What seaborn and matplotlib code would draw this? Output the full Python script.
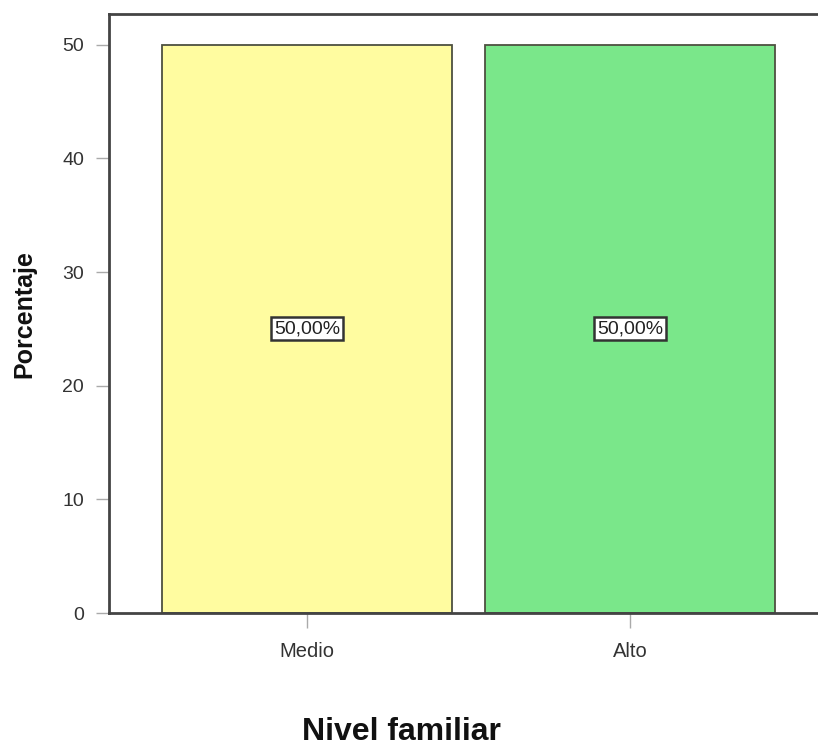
import matplotlib
matplotlib.use("Agg")
import matplotlib.pyplot as plt
import seaborn as sns
import pandas as pd

categories = ["Medio", "Alto"]
percentages = [50.0, 50.0]
bar_labels = ["50,00%", "50,00%"]
bar_colors = ["#FFFCA0", "#7AE78A"]
y_ticks = [0, 10, 20, 30, 40, 50]

sns.set_style("white")
plt.rcParams['font.family'] = ['Liberation Sans', 'DejaVu Sans']

df = pd.DataFrame({"Nivel": categories, "Porcentaje": percentages})

fig = plt.figure(figsize=(8.18, 7.49), dpi=100)
ax = fig.add_axes([109/818, (749-613)/749, (828-109)/818, (613-14)/749])

sns.barplot(data=df, x="Nivel", y="Porcentaje", hue="Nivel", palette=bar_colors,
            width=0.9, edgecolor="#4d5040", linewidth=1.3, legend=False, ax=ax,
            saturation=1)

for i, (v, lab) in enumerate(zip(percentages, bar_labels)):
    ax.text(i, v / 2, lab, ha="center", va="center", fontsize=14, color="#222222",
            bbox=dict(boxstyle="square,pad=0.15", facecolor="white",
                      edgecolor="#333333", linewidth=1.8))

ax.set_xlim(-0.613, 1.613)
ax.set_ylim(0, 52.7)
ax.set_yticks(y_ticks)
ax.set_xlabel("")
ax.set_ylabel("")
for s in ax.spines.values():
    s.set_color("#444444")
    s.set_linewidth(2)
ax.tick_params(axis="y", which="both", left=True, length=9.5, width=1, color="#aaaaaa",
               labelsize=14, labelcolor="#333333", pad=8.5)
ax.tick_params(axis="x", which="both", bottom=True, length=11, width=1, color="#aaaaaa",
               labelsize=14.5, labelcolor="#333333", pad=10)

fig.text(24/818, 1 - 314/749, "Porcentaje", rotation=90, ha="center", va="center",
         fontsize=18, fontweight="bold", color="#111111")
fig.text(401/818, 1 - 740/749, "Nivel familiar", ha="center", va="baseline",
         fontsize=23, fontweight="bold", color="#111111")

fig.savefig("out.png", dpi=100)
